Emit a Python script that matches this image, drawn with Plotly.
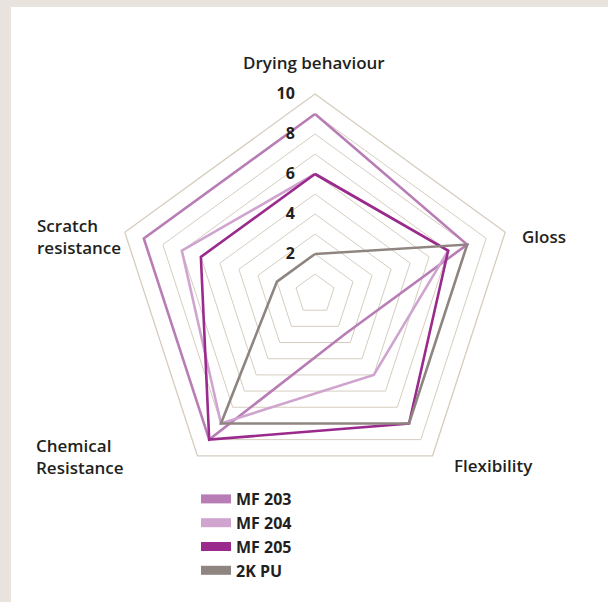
import plotly.graph_objects as go

# ---- data ----
categories = ["Drying behaviour", "Gloss", "Flexibility", "Chemical Resistance", "Scratch resistance"]
axis_labels = ["Drying behaviour", "Gloss", "Flexibility", "Chemical<br>Resistance", "Scratch<br>resistance"]
series_names = ["MF 203", "MF 204", "MF 205", "2K PU"]
mf203 = [9, 8, 2.5, 9, 9]
mf204 = [6, 7, 5, 8, 7]
mf205 = [6, 7, 8, 9, 6]
pu2k = [2, 8, 8, 8, 2]
radial_ticks = [1, 2, 3, 4, 5, 6, 7, 8, 9, 10]
radial_tick_text = ["", "2", "", "4", "", "6", "", "8", "", "10"]

series_values = [mf203, mf204, mf205, pu2k]
colors = ["#b97db6", "#cfa5cf", "#9a2a8c", "#8f8580"]

W, H = 608, 602
FONT = "Open Sans"
TXT = "#231f20"
GRID = "#d6cdbf"

fig = go.Figure()
for name, vals, col in zip(series_names, series_values, colors):
    fig.add_trace(go.Scatterpolar(
        r=vals + vals[:1], theta=categories + categories[:1],
        mode="lines", line=dict(color=col, width=2.6),
        name=name, legendgroup=name, showlegend=False, hoverinfo="skip",
    ))
# legend swatches (no data drawn)
for name, col in zip(series_names, colors):
    fig.add_trace(go.Scatterpolar(
        r=[None], theta=[categories[0]], mode="lines",
        line=dict(color=col, width=9), name=name, legendgroup=name,
        showlegend=True,
    ))

cx, cy, R = 315, 294, 200
fig.update_layout(
    width=W, height=H,
    margin=dict(l=0, r=0, t=0, b=0),
    paper_bgcolor="#e8e3dc",
    plot_bgcolor="white",
    font=dict(family=FONT, color=TXT),
    polar=dict(
        domain=dict(x=[(cx - R) / W, (cx + R) / W], y=[(H - cy - R) / H, (H - cy + R) / H]),
        bgcolor="rgba(0,0,0,0)",
        gridshape="linear",
        radialaxis=dict(
            range=[0, 10], angle=90, side="counterclockwise",
            tickvals=radial_ticks, ticktext=radial_tick_text,
            showline=False, gridcolor=GRID, gridwidth=1.3,
            ticks="outside", ticklen=14, tickcolor="rgba(0,0,0,0)",
            tickfont=dict(size=16, color=TXT, family=FONT, weight=700),
            tickangle=90,
        ),
        angularaxis=dict(
            direction="clockwise", rotation=90,
            showgrid=False, showline=True, linecolor=GRID, linewidth=1.3,
            showticklabels=False, ticks="",
        ),
    ),
    legend=dict(
        x=196 / W, y=1 - 482 / H, xanchor="left", yanchor="top",
        font=dict(size=16, family=FONT, color=TXT, weight=700),
        bgcolor="rgba(0,0,0,0)", tracegroupgap=0,
    ),
    shapes=[dict(type="rect", xref="paper", yref="paper", x0=11 / W, x1=1, y0=0, y1=1 - 7 / H,
                 fillcolor="white", line=dict(width=0), layer="below")],
)

label_pos = [
    (314, 62, "center"),
    (520, 236, "left"),
    (452, 465, "left"),
    (34, 456, "left"),
    (35, 237, "left"),
]
for txt, (x, y, al) in zip(axis_labels, label_pos):
    fig.add_annotation(
        x=x / W, y=1 - y / H, xref="paper", yref="paper", text=txt,
        showarrow=False, xanchor=al, yanchor="middle", align="left",
        font=dict(size=17, family=FONT, color=TXT, weight=600),
    )

fig.write_html("out.html", config={"displayModeBar": False},
               post_script="document.body.style.margin='0';")
